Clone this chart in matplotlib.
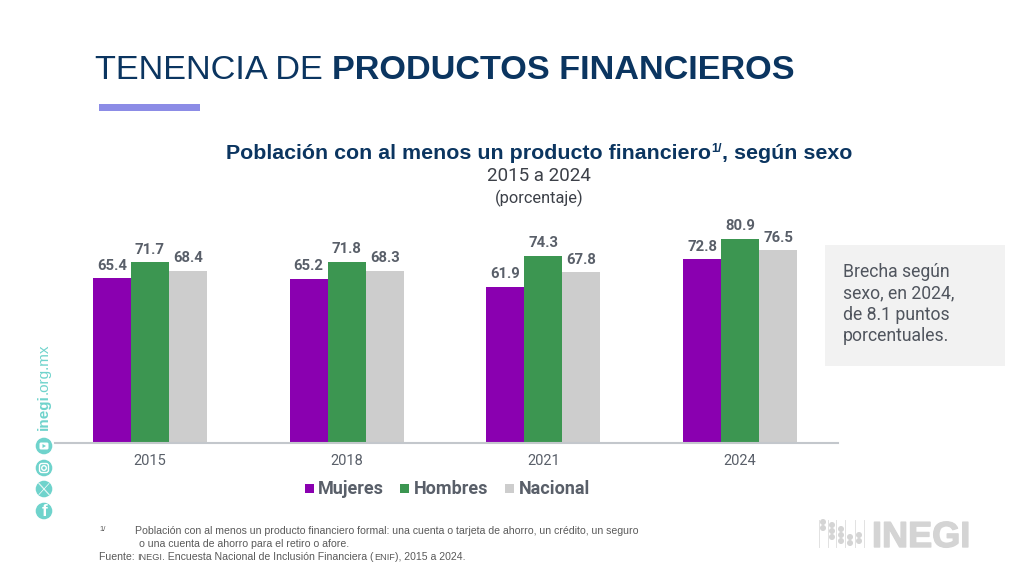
import matplotlib
matplotlib.use('Agg')
import matplotlib.pyplot as plt
import matplotlib.patheffects as pe
from matplotlib.patches import Circle, Rectangle, FancyBboxPatch, Polygon
import numpy as np

years = ['2015', '2018', '2021', '2024']
mujeres = [65.4, 65.2, 61.9, 72.8]
hombres = [71.7, 71.8, 74.3, 80.9]
nacional = [68.4, 68.3, 67.8, 76.5]

NAVY = '#0b3560'
GREY = '#595f69'
TEAL = '#6fd3cc'
C_M = '#8a00b0'
C_H = '#3c9651'
C_N = '#cdcdcd'

fig = plt.figure(figsize=(10.24, 5.70), dpi=100, facecolor='white')

# bars
ax = fig.add_axes([55 / 1024, 1 - 443 / 570, (838 - 55) / 1024, 240 / 570])
x = np.arange(len(years))
w = 0.193
series = [(mujeres, C_M, -w), (hombres, C_H, 0), (nacional, C_N, w)]
for vals, col, off in series:
    bars = ax.bar(x + off, vals, w, color=col, linewidth=0)
    for b, v in zip(bars, vals):
        ax.annotate(f'{v:.1f}', (b.get_x() + b.get_width() / 2, v), xytext=(0, 4),
                    textcoords='offset points', ha='center', va='bottom',
                    fontsize=10.7, fontweight='bold', color=GREY, family='Roboto')
ax.set_xlim(-0.483, 3.498)
ax.set_ylim(0, 95.2)
ax.set_yticks([])
ax.set_xticks(x)
ax.set_xticklabels(years, fontsize=10.5, color=GREY, family='Roboto')
ax.tick_params(axis='x', length=0, pad=8)
for s in ['top', 'left', 'right']:
    ax.spines[s].set_visible(False)
ax.spines['bottom'].set_color('#c3c7cc')
ax.spines['bottom'].set_linewidth(1.5)
ax.patch.set_alpha(0)

# overlay in pixel coordinates
ov = fig.add_axes([0, 0, 1, 1], zorder=5)
ov.set_xlim(0, 1024)
ov.set_ylim(570, 0)
ov.axis('off')
ov.patch.set_alpha(0)


def runs(x0, y, parts):
    # texts one after the other on the same baseline
    r = fig.canvas.get_renderer()
    for s, kw in parts:
        dy = kw.pop('dy', 0)
        t = ov.text(x0, y + dy, s, va='baseline', ha='left', **kw)
        x0 += t.get_window_extent(r).width
    return x0


runs(95, 79, [('TENENCIA DE ', dict(fontsize=24.7, color=NAVY, family='Liberation Sans')),
              ('PRODUCTOS FINANCIEROS', dict(fontsize=24.7, color=NAVY, family='Liberation Sans', fontweight='bold'))])
ov.add_patch(Rectangle((99, 104), 101, 7, color='#8c8ce6', linewidth=0))

sub = dict(color=NAVY, family='Liberation Sans', fontweight='bold')
runs(226, 159, [('Población con al menos un producto financiero', dict(fontsize=15.4, **sub)),
                ('1/', dict(fontsize=9.2, dy=-7, **sub)),
                (', según sexo', dict(fontsize=15.4, **sub))])
ov.text(539, 176, '2015 a 2024', ha='center', va='center', fontsize=13.5, color='#3c4048', family='Roboto')
ov.text(539, 198, '(porcentaje)', ha='center', va='center', fontsize=11.8, color='#3c4048', family='Roboto')

# legend
leg = [('Mujeres', C_M, 305, 318), ('Hombres', C_H, 400, 414), ('Nacional', C_N, 505, 519)]
for name, col, xs, xt in leg:
    ov.add_patch(Rectangle((xs, 484), 9, 9, color=col, linewidth=0))
    ov.text(xt, 494, name, va='baseline', ha='left', fontsize=13, fontweight='bold', color=GREY, family='Roboto')

# side box
ov.add_patch(Rectangle((825, 245), 180, 121, color='#f2f2f2', linewidth=0))
ov.text(843, 304, 'Brecha según\nsexo, en 2024,\nde 8.1 puntos\nporcentuales.', va='center', ha='left',
        fontsize=12.7, color='#50555e', family='Roboto', linespacing=1.24)

# footnotes
note = dict(fontsize=7.52, color='#5a5a5a', family='Liberation Sans')
ov.text(99, 531, '1/', va='baseline', ha='left', fontsize=5.5, color='#5a5a5a', family='Liberation Sans')
ov.text(135, 534, 'Población con al menos un producto financiero formal: una cuenta o tarjeta de ahorro, un crédito, un seguro',
        va='baseline', ha='left', **note)
ov.text(139, 547, 'o una cuenta de ahorro para el retiro o afore.', va='baseline', ha='left', **note)
small = dict(note, fontsize=6.6)
runs(99, 560, [('Fuente: ', dict(note)), ('INEGI', dict(small)),
               ('. Encuesta Nacional de Inclusión Financiera (', dict(note)),
               ('ENIF', dict(small)), ('), 2015 a 2024.', dict(note))])

# inegi.org.mx vertical
r = fig.canvas.get_renderer()
t1 = ov.text(44, 430, 'inegi', rotation=90, ha='center', va='bottom',
             fontsize=11, fontweight='bold', color=TEAL, family='Liberation Sans')
h = t1.get_window_extent(r).height
ov.text(44, 430 - h, '.org.mx', rotation=90, ha='center', va='bottom',
        fontsize=11, color=TEAL, family='Liberation Sans')

# social icons
for cy in [446, 468, 489, 511]:
    ov.add_patch(Circle((44, cy), 8.3, color=TEAL, linewidth=0, zorder=6))
ov.add_patch(FancyBboxPatch((39.5, 442.5), 9, 7, boxstyle='round,pad=0,rounding_size=1.5', color='white', linewidth=0, zorder=7))
ov.add_patch(Polygon([[42.5, 444], [42.5, 448], [46, 446]], color=TEAL, linewidth=0, zorder=8))
ov.add_patch(FancyBboxPatch((39.5, 463.5), 9, 9, boxstyle='round,pad=0,rounding_size=2.5', fc='none', ec='white', lw=1, zorder=7))
ov.add_patch(Circle((44, 468), 2.3, fc='none', ec='white', lw=1, zorder=7))
ov.plot([39, 49], [483.5, 494.5], color='white', lw=0.9, alpha=0.8, zorder=7)
ov.plot([49, 39], [483.5, 494.5], color='white', lw=0.5, zorder=7)
ov.text(45, 512, 'f', ha='center', va='center', fontsize=12.5, fontweight='bold', color='white',
        family='Liberation Sans', zorder=7)

# logo
LOGO = '#d4d4d4'
for lx in [819, 828, 836, 845, 855, 864]:
    ov.plot([lx, lx], [520, 547], color='#e2e2e2', lw=0.7)
dots = [(823, 522), (823, 528), (832, 525), (832, 531), (832, 537), (841, 529), (841, 535), (841, 541),
    (850, 537), (850, 543), (859, 535), (859, 541)]
for dx, dy in dots:
    ov.add_patch(Circle((dx, dy), 3, color=LOGO, linewidth=0))
ov.text(872, 547, 'INEGI', ha='left', va='baseline', fontsize=26, fontweight='bold', color=LOGO,
        family='Liberation Sans', path_effects=[pe.withStroke(linewidth=1, foreground=LOGO)])

fig.savefig('out.png', dpi=100, facecolor='white')
